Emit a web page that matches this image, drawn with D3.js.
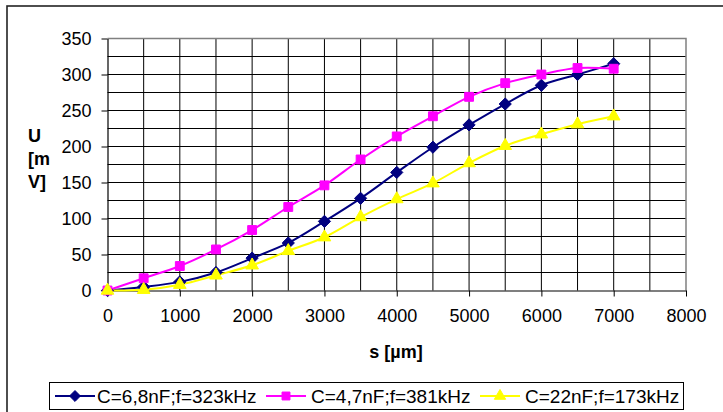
<!DOCTYPE html>
<html>
<head>
<meta charset="utf-8">
<script src="https://cdn.jsdelivr.net/npm/d3@7"></script>
<style>
  html, body { margin: 0; padding: 0; background: #fff; }
  svg text { font-family: "Liberation Sans", Arial, sans-serif; }
</style>
</head>
<body>
<svg id="chart" width="723" height="412"></svg>
<script>
// Distance s [µm] and measured voltage U [mV] for three capacitor settings
const distances = [0, 500, 1000, 1500, 2000, 2500, 3000, 3500, 4000, 4500, 5000, 5500, 6000, 6500, 7000];
const seriesC68 = [0, 5, 12, 25, 45, 66, 96, 128, 164, 199, 230, 259, 285, 300, 315];
const seriesC47 = [0, 17, 34, 57, 84, 116, 146, 182, 214, 242, 269, 288, 300, 309, 308];
const seriesC22 = [0, 1, 8, 21, 35, 55, 74, 102, 127, 149, 177, 201, 217, 231, 242];
const seriesNames = ["C=6,8nF;f=323kHz", "C=4,7nF;f=381kHz", "C=22nF;f=173kHz"];
const xTicks = [0, 1000, 2000, 3000, 4000, 5000, 6000, 7000, 8000];
const yTicks = [0, 50, 100, 150, 200, 250, 300, 350];

const series = [
  { name: seriesNames[0], values: seriesC68, color: "#000080", symbol: d3.symbolDiamond2, size: 95 },
  { name: seriesNames[1], values: seriesC47, color: "#FF00FF", symbol: d3.symbolSquare2, size: 100 },
  { name: seriesNames[2], values: seriesC22, color: "#FFFF00", symbol: d3.symbolTriangle2, size: 115 }
];

const svg = d3.select("#chart");
const plot = { left: 107.5, right: 686, top: 38.5, bottom: 290.5 };

const x = d3.scaleLinear().domain([0, 8000]).range([plot.left, plot.right]);
const y = d3.scaleLinear().domain([0, 350]).range([plot.bottom, plot.top]);

// outer chart frame
svg.append("rect")
  .attr("x", 7).attr("y", 6).attr("width", 740).attr("height", 430)
  .attr("fill", "none").attr("stroke", "#222").attr("stroke-width", 1.6);

// gridlines
const grid = svg.append("g");
grid.selectAll("line.v").data(d3.range(500, 8000, 500)).join("line")
  .attr("x1", d => x(d)).attr("x2", d => x(d))
  .attr("y1", plot.top).attr("y2", plot.bottom)
  .attr("stroke", "#000").attr("stroke-width", 1);
grid.selectAll("line.h").data(d3.range(25, 350, 25)).join("line")
  .attr("x1", plot.left).attr("x2", plot.right)
  .attr("y1", d => y(d)).attr("y2", d => y(d))
  .attr("stroke", "#000").attr("stroke-width", 1);

// plot area border (top and right in grey)
svg.append("path")
  .attr("d", `M${plot.left},${plot.top}H${plot.right}V${plot.bottom}`)
  .attr("fill", "none").attr("stroke", "#808080").attr("stroke-width", 1.5);

// axes
const xAxis = svg.append("g")
  .attr("transform", `translate(0,${plot.bottom})`)
  .call(d3.axisBottom(x).tickValues(xTicks).tickFormat(d3.format("d"))
    .tickSize(6).tickPadding(13).tickSizeOuter(0));
const yAxis = svg.append("g")
  .attr("transform", `translate(${plot.left},0)`)
  .call(d3.axisLeft(y).tickValues(yTicks).tickFormat(d3.format("d"))
    .tickSize(6).tickPadding(10).tickSizeOuter(0));
[xAxis, yAxis].forEach(g => {
  g.select(".domain").attr("stroke", "#000").attr("stroke-width", 1.2);
  g.selectAll(".tick line").attr("stroke", "#000");
  g.selectAll(".tick text").attr("font-size", 18).attr("fill", "#000")
    .attr("font-family", "'Liberation Sans', Arial, sans-serif");
});

// axis titles
svg.append("text")
  .attr("x", 396).attr("y", 358).attr("text-anchor", "middle")
  .attr("font-size", 18).attr("font-weight", "bold").text("s [µm]");
const yTitle = svg.append("text").attr("font-size", 18).attr("font-weight", "bold");
["U", "[m", "V]"].forEach((t, i) => {
  yTitle.append("tspan").attr("x", 28).attr("y", 142 + i * 23).text(t);
});

// series lines and markers
const line = d3.line()
  .x((d, i) => x(distances[i]))
  .y(d => y(d))
  .curve(d3.curveCatmullRom.alpha(0.5));

series.forEach(s => {
  svg.append("path")
    .datum(s.values)
    .attr("d", line)
    .attr("fill", "none").attr("stroke", s.color).attr("stroke-width", 2);
});
series.forEach(s => {
  svg.append("g").selectAll("path").data(s.values).join("path")
    .attr("transform", (d, i) => `translate(${x(distances[i])},${y(d)})`)
    .attr("d", d3.symbol().type(s.symbol).size(s.size))
    .attr("fill", s.color).attr("stroke", s.color).attr("stroke-width", 1);
});

// legend
const legend = svg.append("g");
legend.append("rect")
  .attr("x", 49.5).attr("y", 382.5).attr("width", 634).attr("height", 27)
  .attr("fill", "#fff").attr("stroke", "#000").attr("stroke-width", 1);
const legendX = [55, 266, 480];
series.forEach((s, i) => {
  const g = legend.append("g").attr("transform", `translate(${legendX[i]},396)`);
  g.append("line").attr("x1", 0).attr("x2", 40).attr("y1", 0).attr("y2", 0)
    .attr("stroke", s.color).attr("stroke-width", 2);
  g.append("path").attr("transform", "translate(20,0)")
    .attr("d", d3.symbol().type(s.symbol).size(s.size * 0.8))
    .attr("fill", s.color).attr("stroke", s.color);
  g.append("text").attr("x", i === 0 ? 42 : 45).attr("y", 7).attr("font-size", 19).text(s.name);
});
</script>
</body>
</html>
